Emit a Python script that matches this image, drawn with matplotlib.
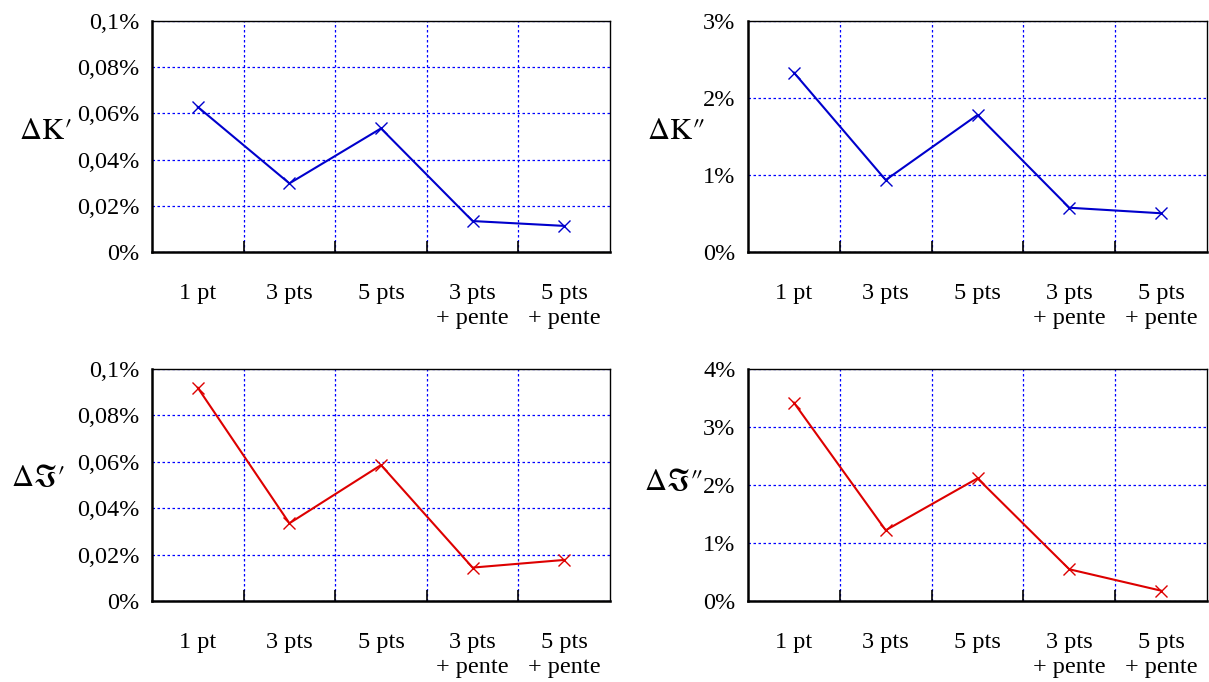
import matplotlib
matplotlib.use("Agg")
import matplotlib.pyplot as plt

plt.rcParams['font.family'] = ['Liberation Serif', 'DejaVu Serif']
plt.rcParams['mathtext.fontset'] = 'stix'

# categories (x tick labels)
methods = ['1 pt', '3 pts', '5 pts', '3 pts\n+ pente', '5 pts\n+ pente']

# relative errors, in %
dK1 = [0.0628, 0.0297, 0.0535, 0.0134, 0.0113]
dK2 = [2.33, 0.935, 1.78, 0.575, 0.503]
dJ1 = [0.0919, 0.0335, 0.0586, 0.0144, 0.0177]
dJ2 = [3.42, 1.22, 2.115, 0.547, 0.178]

# y ticks and labels
yt_small = [0, 0.02, 0.04, 0.06, 0.08, 0.1]
yl_small = ['0%', '0,02%', '0,04%', '0,06%', '0,08%', '0,1%']
yt_K2 = [0, 1, 2, 3]
yl_K2 = ['0%', '1%', '2%', '3%']
yt_J2 = [0, 1, 2, 3, 4]
yl_J2 = ['0%', '1%', '2%', '3%', '4%']

fig = plt.figure(figsize=(12.09, 6.82), dpi=100)

W, H = 1209, 682


def make_ax(x0, x1, y0, y1):
    return fig.add_axes([x0 / W, 1 - y1 / H, (x1 - x0) / W, (y1 - y0) / H])


def draw(ax, values, color, yt, yl, label, lx, ly):
    x = list(range(1, len(values) + 1))
    ax.plot(x, values, color=color, lw=1.5, marker='x', ms=9, mew=1.0)
    ax.set_xlim(0.5, len(values) + 0.5)
    ax.set_ylim(yt[0], yt[-1])
    # grid lines between categories
    ax.set_xticks([1.5, 2.5, 3.5, 4.5])
    ax.set_xticklabels([])
    ax.set_xticks(x, minor=True)
    ax.set_xticklabels(methods, minor=True, fontsize=17.5, linespacing=1.25)
    ax.tick_params(axis='x', which='major', direction='in', length=8,
                   width=1.2, color='black', top=False)
    ax.tick_params(axis='x', which='minor', length=0, pad=22)
    ax.set_yticks(yt)
    ax.set_yticklabels(yl, fontsize=17.5)
    ax.tick_params(axis='y', length=0, pad=9)
    ax.grid(True, which='major', color='#0000ff', lw=0.9, ls=(0, (2, 2)))
    for s in ax.spines.values():
        s.set_linewidth(1.0)
    ax.spines['bottom'].set_linewidth(1.8)
    ax.spines['left'].set_linewidth(1.8)
    ax.set_ylabel(label, fontsize=22, rotation=0, ha='center', va='center')
    ax.yaxis.set_label_coords(lx, ly)


ax1 = make_ax(152, 610, 21, 252)
draw(ax1, dK1, '#0000cc', yt_small, yl_small, r"$\Delta\mathrm{K}\prime$", -0.232, 0.52)

ax2 = make_ax(748, 1207, 21, 252)
draw(ax2, dK2, '#0000cc', yt_K2, yl_K2, r"$\Delta\mathrm{K}\prime\!\prime$", -0.157, 0.52)

ax3 = make_ax(152, 610, 369, 601)
draw(ax3, dJ1, '#dd0000', yt_small, yl_small, r"$\Delta\Im\prime$", -0.25, 0.53)

ax4 = make_ax(748, 1207, 369, 601)
draw(ax4, dJ2, '#dd0000', yt_J2, yl_J2, r"$\Delta\Im\prime\!\prime$", -0.163, 0.51)

fig.savefig('out.png', dpi=100)
